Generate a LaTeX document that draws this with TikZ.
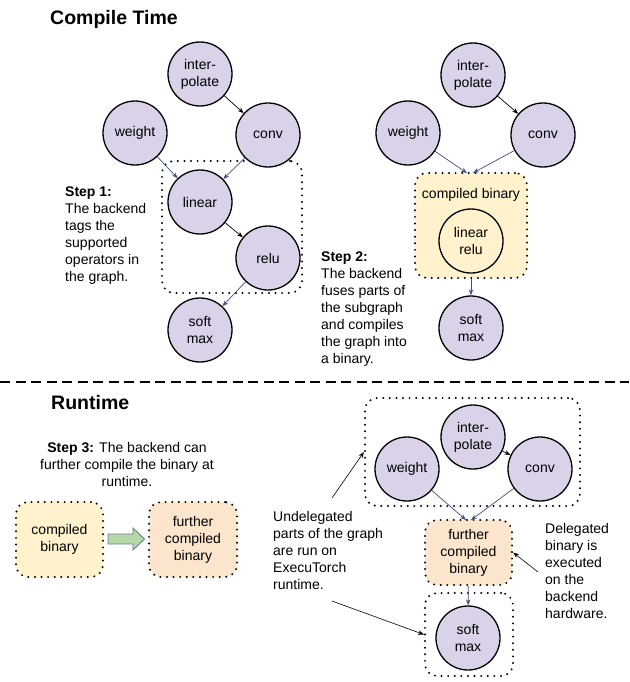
\documentclass[tikz,border=0pt]{standalone}
\usepackage{fontspec}
\setmainfont{Liberation Sans}
\usetikzlibrary{arrows.meta}
\definecolor{lav}{HTML}{D9D2E9}
\definecolor{ylw}{HTML}{FFF2CC}
\definecolor{pch}{HTML}{FCE5CD}
\definecolor{grn}{HTML}{B6D7A8}
\definecolor{arrblue}{HTML}{3D4F7D}
\definecolor{arrgray}{HTML}{6B7B8C}
\tikzset{
  op/.style={circle, draw=black, line width=1.3pt, fill=lav, minimum size=64pt, inner sep=0pt, align=center, font=\fontsize{14}{17}\selectfont},
  fused/.style={op, fill=ylw},
  dotbox/.style={rounded corners=12pt, draw=black, line width=2.2pt, dash pattern=on 0pt off 6.6pt, line cap=round, inner sep=0pt},
  txt/.style={inner sep=0pt, align=left, font=\fontsize{14}{17}\selectfont},
  ctxt/.style={inner sep=0pt, align=center, font=\fontsize{14}{17}\selectfont},
  title/.style={inner sep=0pt, font=\fontsize{19.5}{22}\selectfont\bfseries, anchor=base west},
  ka/.style={-{Stealth[length=6pt,width=4.5pt]}, line width=0.7pt, black},
  ba/.style={-{Stealth[length=6pt,width=4.5pt]}, line width=0.7pt, arrblue},
  na/.style={-{Stealth[length=6pt,width=4.5pt]}, line width=0.6pt, black},
}
\begin{document}
\begin{tikzpicture}[x=1pt, y=-1pt]
\useasboundingbox (0,0) rectangle (629,682);

% ---------------- Compile time ----------------
\node[title] (ct) at (50,25) {Compile Time};

% left graph
\node[dotbox, minimum width=140pt, minimum height=132pt] (tagbox) at (232,227) {};
\node[op] (i1) at (200,74) {inter-\\polate};
\node[op] (w1) at (135,133) {weight};
\node[op] (c1) at (268,135) {conv};
\node[op] (l1) at (200,202) {linear};
\node[op] (r1) at (268,258) {relu};
\node[op] (s1) at (200,330) {soft\\max};
\draw[ka] (i1) -- (c1);
\draw[ba] (w1) -- (l1);
\draw[ba] (c1) -- (l1);
\draw[ka] (l1) -- (r1);
\draw[ba] (r1) -- (s1);

\node[txt, anchor=north west] (st1) at (65,186.5) {\textbf{Step 1:}\\The backend\\tags the\\supported\\operators in\\the graph.};

% right graph
\node[op] (i2) at (473,75) {inter-\\polate};
\node[op] (w2) at (408,133) {weight};
\node[op] (c2) at (543,135) {conv};
\node[dotbox, fill=ylw, minimum width=112pt, minimum height=105pt] (cb2) at (471,225.5) {};
\node[ctxt] (cbl) at (471,195) {compiled binary};
\node[fused] (lr2) at (471,241) {linear\\relu};
\node[op] (s2) at (471,328) {soft\\max};
\coordinate (cbA) at (467,173);
\coordinate (cbB) at (473,173);
\draw[ka] (i2) -- (c2);
\draw[ba] (w2) -- (cbA);
\draw[ba] (c2) -- (cbB);
\draw[ba] (cb2) -- (s2);

\node[txt, anchor=north west] (st2) at (321,251.5) {\textbf{Step 2:}\\The backend\\fuses parts of\\the subgraph\\and compiles\\the graph into\\a binary.};

% separator
\coordinate (sepL) at (0,382);
\coordinate (sepR) at (629,382);
\draw[line width=2pt, dash pattern=on 10pt off 5.5pt] (sepL) -- (sepR);

% ---------------- Runtime ----------------
\node[title] (rt) at (51,409) {Runtime};

\node[ctxt, anchor=north] (st3) at (127,442.5) {\textbf{Step 3:} The backend can\\further compile the binary at\\runtime.};

\node[dotbox, fill=ylw, minimum width=87pt, minimum height=75pt, align=center, font=\fontsize{14}{17}\selectfont] (cb3) at (59.5,539.5) {compiled\\binary};
\node[dotbox, fill=pch, minimum width=88pt, minimum height=75pt, align=center, font=\fontsize{14}{17}\selectfont] (fcb3) at (193,539.5) {further\\compiled\\binary};
\draw[fill=grn, draw=arrgray, line width=0.9pt, line join=miter]
  (108,534) -- (133,534) -- (133,528) -- (144.5,539) -- (133,550) -- (133,544) -- (108,544) -- cycle;

% runtime graph
\node[dotbox, minimum width=215pt, minimum height=108pt] (topbox) at (472.5,452) {};
\node[op] (i4) at (473,437) {inter-\\polate};
\node[op] (w4) at (407,469) {weight};
\node[op] (c4) at (540,469) {conv};
\node[dotbox, fill=pch, minimum width=87pt, minimum height=65pt, align=center, font=\fontsize{14}{17}\selectfont] (fcb4) at (468.5,552.5) {further\\compiled\\binary};
\node[dotbox, minimum width=88pt, minimum height=83pt] (smbox) at (469,634.5) {};
\node[op] (s4) at (468,638) {soft\\max};
\coordinate (fA) at (466,520);
\coordinate (fB) at (471,520);
\draw[ka] (i4) -- (c4);
\draw[ba] (w4) -- (fA);
\draw[ba] (c4) -- (fB);
\draw[ba] (fcb4) -- (s4);

\node[txt, anchor=north west] (und) at (273,511.5) {Undelegated\\parts of the graph\\are run on\\ExecuTorch\\runtime.};
\node[txt, anchor=north west] (del) at (545,523.5) {Delegated\\binary is\\executed\\on the\\backend\\hardware.};

\coordinate (u1) at (332,498);
\coordinate (u2) at (332,601);
\coordinate (d1) at (538,572);
\draw[na] (u1) -- (topbox.west);
\draw[na] (u2) -- (smbox.west);
\draw[na] (d1) -- (fcb4.east);
\end{tikzpicture}
\end{document}
